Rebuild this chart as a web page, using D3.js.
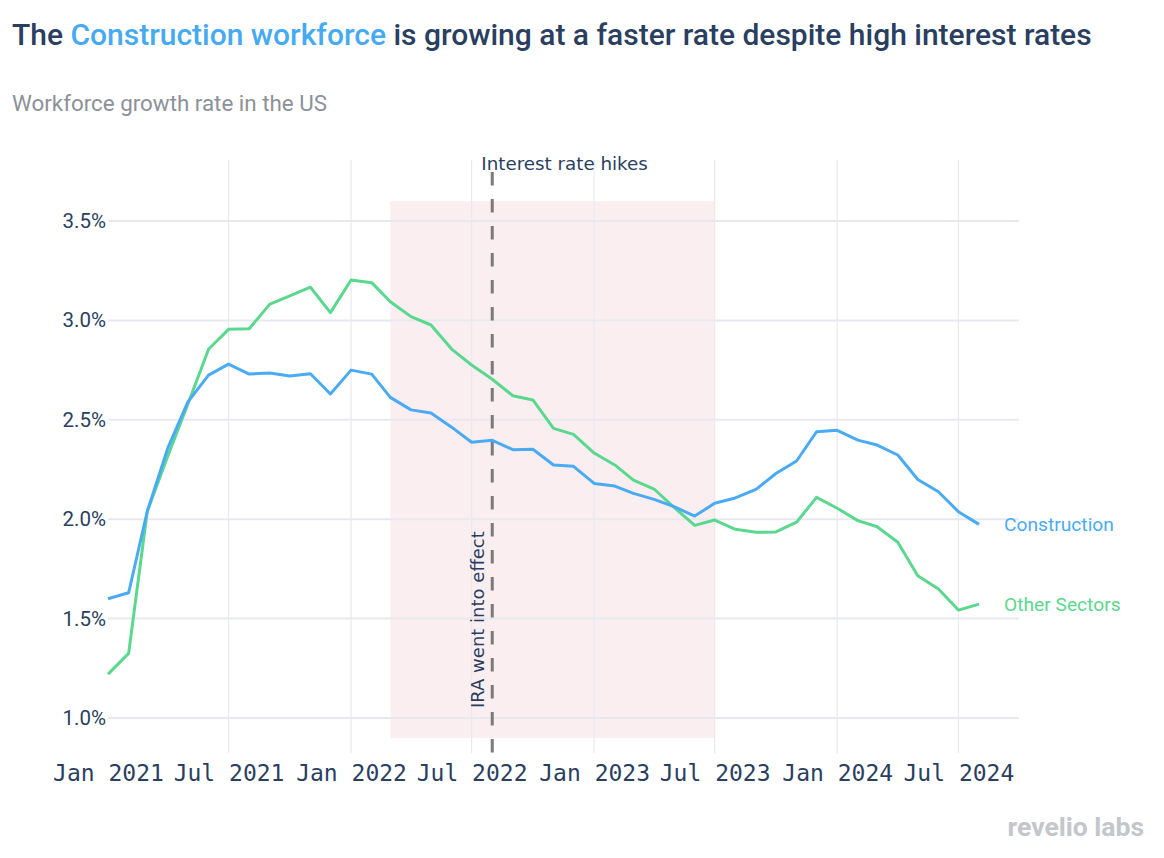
<!DOCTYPE html>
<html>
<head>
<meta charset="utf-8">
<script src="https://cdn.jsdelivr.net/npm/d3@7"></script>
<style>
  html, body { margin: 0; padding: 0; background: #fff; }
  svg { display: block; }
</style>
</head>
<body>
<svg id="chart" width="1164" height="858"></svg>
<script>
// ---- Data ----
const months = [
  "2021-01","2021-02","2021-03","2021-04","2021-05","2021-06","2021-07","2021-08","2021-09","2021-10","2021-11","2021-12",
  "2022-01","2022-02","2022-03","2022-04","2022-05","2022-06","2022-07","2022-08","2022-09","2022-10","2022-11","2022-12",
  "2023-01","2023-02","2023-03","2023-04","2023-05","2023-06","2023-07","2023-08","2023-09","2023-10","2023-11","2023-12",
  "2024-01","2024-02","2024-03","2024-04","2024-05","2024-06","2024-07","2024-08"
];
const construction = [
  1.60, 1.63, 2.04, 2.36, 2.59, 2.725, 2.78, 2.73, 2.735, 2.72, 2.732, 2.63,
  2.75, 2.73, 2.613, 2.55, 2.534, 2.463, 2.387, 2.397, 2.35, 2.352, 2.273, 2.266,
  2.18, 2.167, 2.13, 2.10, 2.063, 2.016, 2.08, 2.107, 2.15, 2.23, 2.293, 2.44,
  2.447, 2.398, 2.373, 2.323, 2.20, 2.138, 2.038, 1.974
];
const otherSectors = [
  1.221, 1.325, 2.04, 2.32, 2.58, 2.855, 2.955, 2.958, 3.082, 3.123, 3.167, 3.039,
  3.203, 3.19, 3.094, 3.019, 2.977, 2.856, 2.776, 2.704, 2.621, 2.60, 2.457, 2.427,
  2.333, 2.273, 2.197, 2.152, 2.06, 1.969, 1.996, 1.949, 1.934, 1.936, 1.985, 2.11,
  2.055, 1.993, 1.962, 1.884, 1.716, 1.649, 1.543, 1.573
];
const seriesNames = ["Construction", "Other Sectors"];
const yTicks = [1.0, 1.5, 2.0, 2.5, 3.0, 3.5];
const xTicks = ["2021-01","2021-07","2022-01","2022-07","2023-01","2023-07","2024-01","2024-07"];
const xTickLabels = ["Jan 2021","Jul 2021","Jan 2022","Jul 2022","Jan 2023","Jul 2023","Jan 2024","Jul 2024"];
const hikeRange = ["2022-03", "2023-07"];
const hikeYRange = [0.9, 3.6];
const iraDate = "2022-08";
const xDomain = ["2021-01-01", "2024-09-30"];
const yDomain = [0.824, 3.807];

// ---- Setup ----
const parse = d3.utcParse("%Y-%m");
const parseDay = d3.utcParse("%Y-%m-%d");
const svg = d3.select("#chart");
const plot = { left: 108, right: 1019, top: 160, bottom: 753 };
const navy = "#2a3f5f";
const blue = "#4aabf4";
const green = "#5ad88e";
const gridColor = "#e8e9ef";

const x = d3.scaleUtc().domain(xDomain.map(parseDay)).range([plot.left, plot.right]);
const y = d3.scaleLinear().domain(yDomain).range([plot.bottom, plot.top]);

// ---- Title / subtitle ----
const title = svg.append("text")
  .attr("x", 12).attr("y", 45)
  .attr("font-family", "Roboto, sans-serif")
  .attr("font-weight", 500)
  .attr("font-size", 28)
  .attr("fill", navy);
title.append("tspan").text("The ");
title.append("tspan").attr("fill", "#45aaf2").text("Construction workforce");
title.append("tspan").text(" is growing at a faster rate despite high interest rates");
{
  const w = title.node().getComputedTextLength();
  title.attr("font-size", 28 * 1080 / w);
}

const sub = svg.append("text")
  .attr("x", 12).attr("y", 111)
  .attr("font-family", "Roboto, sans-serif")
  .attr("font-size", 21)
  .attr("fill", "#8c9199")
  .text("Workforce growth rate in the US");
{
  const w = sub.node().getComputedTextLength();
  sub.attr("font-size", 21 * 315 / w);
}

// ---- Hike shading ----
svg.append("rect")
  .attr("x", x(parse(hikeRange[0])))
  .attr("width", x(parse(hikeRange[1])) - x(parse(hikeRange[0])))
  .attr("y", y(hikeYRange[1]))
  .attr("height", y(hikeYRange[0]) - y(hikeYRange[1]))
  .attr("fill", "#fbeef1");

// ---- Grid ----
svg.append("g").selectAll("line").data(xTicks.slice(1)).join("line")
  .attr("x1", d => x(parse(d))).attr("x2", d => x(parse(d)))
  .attr("y1", plot.top).attr("y2", plot.bottom)
  .attr("stroke", gridColor).attr("stroke-width", 1.2);

svg.append("g").selectAll("line").data(yTicks).join("line")
  .attr("x1", plot.left).attr("x2", plot.right)
  .attr("y1", d => y(d)).attr("y2", d => y(d))
  .attr("stroke", gridColor).attr("stroke-width", 2);

// ---- Axes labels ----
const yAxis = d3.axisLeft(y).tickValues(yTicks).tickFormat(d => d.toFixed(1) + "%").tickSize(0).tickPadding(2);
const yg = svg.append("g").attr("transform", `translate(${plot.left},0)`).call(yAxis);
yg.select(".domain").remove();
yg.selectAll("text")
  .attr("font-family", "Roboto, sans-serif")
  .attr("font-size", 20.5)
  .attr("fill", navy);

const xAxis = d3.axisBottom(x).tickValues(xTicks.map(parse))
  .tickFormat((d, i) => xTickLabels[i]).tickSize(0).tickPadding(12);
const xg = svg.append("g").attr("transform", `translate(0,${plot.bottom})`).call(xAxis);
xg.select(".domain").remove();
xg.selectAll("text")
  .attr("font-family", "'DejaVu Sans Mono', monospace")
  .attr("font-size", 23)
  .attr("fill", navy);

// ---- IRA dashed line ----
const ix = x(parse(iraDate));
svg.append("line")
  .attr("x1", ix).attr("x2", ix)
  .attr("y1", 172).attr("y2", plot.bottom)
  .attr("stroke", "#7a7a7a")
  .attr("stroke-width", 3)
  .attr("stroke-dasharray", "13.5,13.5");

svg.append("text")
  .attr("transform", `translate(${ix - 8},708) rotate(-90)`)
  .attr("font-family", "'DejaVu Sans', sans-serif")
  .attr("font-size", 18)
  .attr("fill", navy)
  .text("IRA went into effect");

svg.append("text")
  .attr("x", ix - 11).attr("y", 170)
  .attr("font-family", "'DejaVu Sans', sans-serif")
  .attr("font-size", 18.3)
  .attr("fill", navy)
  .text("Interest rate hikes");

// ---- Lines ----
const line = d3.line().x((d, i) => x(parse(months[i]))).y(d => y(d));
const series = [
  { name: seriesNames[1], values: otherSectors, color: green },
  { name: seriesNames[0], values: construction, color: blue }
];
svg.append("g").selectAll("path").data(series).join("path")
  .attr("d", d => line(d.values))
  .attr("fill", "none")
  .attr("stroke", d => d.color)
  .attr("stroke-width", 3)
  .attr("stroke-linejoin", "round");

// ---- End labels ----
svg.append("g").selectAll("text").data(series).join("text")
  .attr("x", x(parse(months[months.length - 1])) + 25)
  .attr("y", d => y(d.values[d.values.length - 1]) + 7)
  .attr("font-family", "Roboto, sans-serif")
  .attr("font-size", 19.2)
  .attr("fill", d => d.color)
  .text(d => d.name);

// ---- Logo ----
svg.append("text")
  .attr("x", 1144).attr("y", 836)
  .attr("text-anchor", "end")
  .attr("font-family", "Roboto, sans-serif")
  .attr("font-weight", 700)
  .attr("font-size", 26.5)
  .attr("fill", "#c3c6cb")
  .text("revelio labs");
</script>
</body>
</html>
